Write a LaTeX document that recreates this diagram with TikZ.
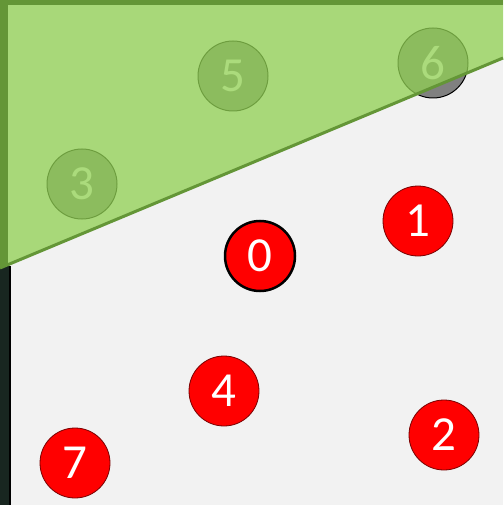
\documentclass[tikz,border=0pt]{standalone}
\usepackage{fontspec}
\setmainfont{Carlito}
\definecolor{bgray}{HTML}{F2F2F2}
\definecolor{tgreen}{RGB}{145,208,84}
\definecolor{tborder}{RGB}{100,150,55}
\definecolor{dredb}{RGB}{120,0,0}
\definecolor{darkstrip}{RGB}{24,38,32}
\tikzset{
  num/.style={circle, minimum size=70pt, inner sep=0pt, text=white,
    font=\fontsize{49}{49}\selectfont},
  rednum/.style={num, fill=red, draw=dredb, line width=0.8pt},
  graynum/.style={num, fill=gray, draw=black, line width=1pt},
}
\begin{document}
\begin{tikzpicture}[x=1pt,y=-1pt]
\useasboundingbox (0,0) rectangle (503,505);
\fill[bgray] (0,0) rectangle (503,505);
\fill[darkstrip] (0,266) rectangle (10,505);
\draw[black, line width=1.5pt] (10,266) -- (10,505);
% nodes
\node[rednum] (n1) at (418,221) {1};
\node[rednum] (n2) at (444,435) {2};
\node[rednum] (n4) at (224,391) {4};
\node[rednum] (n7) at (75,463) {7};
\node[num, fill=red, draw=black, line width=2.5pt] (n0) at (260,256) {0};
\node[graynum] (n3) at (82,184) {3};
\node[graynum] (n5) at (233,76) {5};
\node[graynum] (n6) at (433,63) {6};
% green triangle
\coordinate (tl) at (0,0);
\coordinate (tr) at (503,0);
\coordinate (br) at (503,58);
\coordinate (bl) at (0,268);
\fill[tgreen, fill opacity=0.76] (tl) -- (tr) -- (br) -- (bl) -- cycle;
\draw[tborder, line width=3pt] (bl) -- (br);
\draw[tborder, line width=8pt] (4,266) -- (4,2.5);
\draw[tborder, line width=5pt] (0,2.5) -- (503,2.5);
\end{tikzpicture}
\end{document}
